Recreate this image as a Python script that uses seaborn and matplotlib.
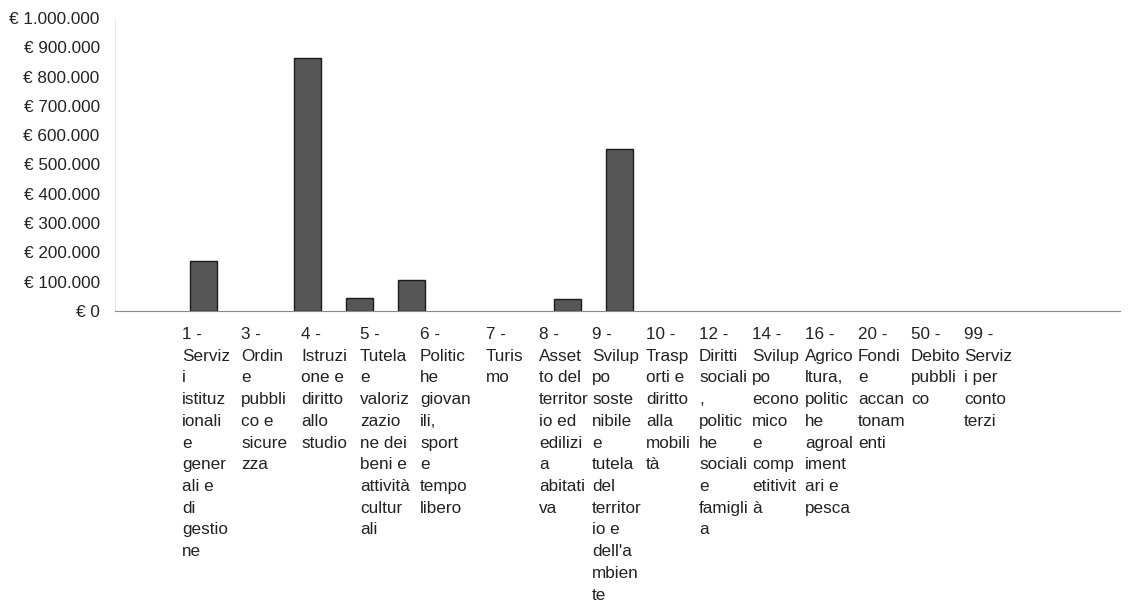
import matplotlib
matplotlib.use("Agg")
import matplotlib.pyplot as plt
from matplotlib.ticker import FuncFormatter, MultipleLocator
import seaborn as sns
import pandas as pd

# Spending by budget mission (euro)
missions = ["1", "3", "4", "5", "6", "7", "8", "9", "10", "12", "14", "16", "20", "50", "99"]
mission_labels = [
    "1 -\nServiz\ni\nistituz\nionali\ne\ngener\nali e\ndi\ngestio\nne",
    "3 -\nOrdin\ne\npubbli\nco e\nsicure\nzza",
    "4 -\nIstruzi\none e\ndiritto\nallo\nstudio",
    "5 -\nTutela\ne\nvaloriz\nzazio\nne dei\nbeni e\nattività\ncultur\nali",
    "6 -\nPolitic\nhe\ngiovan\nili,\nsport\ne\ntempo\nlibero",
    "7 -\nTuris\nmo",
    "8 -\nAsset\nto del\nterritor\nio ed\nedilizi\na\nabitati\nva",
    "9 -\nSvilup\npo\nsoste\nnibile\ne\ntutela\ndel\nterritor\nio e\ndell'a\nmbien\nte",
    "10 -\nTrasp\norti e\ndiritto\nalla\nmobili\ntà",
    "12 -\nDiritti\nsociali\n,\npolitic\nhe\nsociali\ne\nfamigli\na",
    "14 -\nSvilup\npo\necono\nmico\ne\ncomp\netitivit\nà",
    "16 -\nAgrico\nltura,\npolitic\nhe\nagroal\niment\nari e\npesca",
    "20 -\nFondi\ne\naccan\ntonam\nenti",
    "50 -\nDebito\npubbli\nco",
    "99 -\nServiz\ni per\nconto\nterzi",
]
amounts = [171000, 0, 862000, 46000, 105000, 0, 0, 40000, 553000, 0, 0, 0, 0, 0, 0]

sns.set_theme(style="white")
plt.rcParams["font.family"] = ["Liberation Sans", "DejaVu Sans"]

df = pd.DataFrame({"missione": missions, "importo": amounts})

W, H = 1129, 605
AX_L, AX_R, AX_T, AX_B = 115, 1120, 18, 311
fig = plt.figure(figsize=(W / 100, H / 100), dpi=100)
ax = fig.add_axes([AX_L / W, 1 - AX_B / H, (AX_R - AX_L) / W, (AX_B - AX_T) / H])

sns.barplot(data=df, x="missione", y="importo", order=missions,
            color="#565656", saturation=1, width=0.52,
            edgecolor="#1a1a1a", linewidth=1.0, ax=ax)

# empty missions get no visible bar outline
for patch in ax.patches:
    if patch.get_height() == 0:
        patch.set_visible(False)

ax.set_xlim(-1.71, 17.62)
ax.set_ylim(0, 1_000_000)
ax.yaxis.set_major_locator(MultipleLocator(100_000))

def euro(v, _):
    s = f"{int(round(v)):,}".replace(",", ".")
    return f"€ {s}"

ax.yaxis.set_major_formatter(FuncFormatter(euro))
ax.tick_params(axis="y", length=0, pad=11, labelsize=12.3, labelcolor="#222222")
ax.set_xlabel("")
ax.set_ylabel("")
ax.set_xticks([i + 0.5 for i in range(len(missions))])
ax.set_xticklabels([])
ax.tick_params(axis="x", length=4, width=0.6, color="#c4c4c4", direction="out")

for side in ["top", "right"]:
    ax.spines[side].set_visible(False)
ax.spines["bottom"].set_color("#8a8a8a")
ax.spines["bottom"].set_linewidth(0.8)
ax.spines["left"].set_color("#e4e4e4")
ax.spines["left"].set_linewidth(0.6)
ax.grid(False)

# Wrapped mission names in text columns under the axis (left edges, px)
column_left = [182, 241, 301, 360, 420, 486, 539, 592, 646, 699, 752, 805, 858, 911, 964]
for left, lab in zip(column_left, mission_labels):
    ax.text((left - AX_L) / (AX_R - AX_L), -16 / (AX_B - AX_T), lab,
            transform=ax.transAxes, ha="left", va="top", fontsize=12.3,
            color="#222222", linespacing=1.56, clip_on=False)

fig.savefig("out.png", dpi=100, facecolor="white")
